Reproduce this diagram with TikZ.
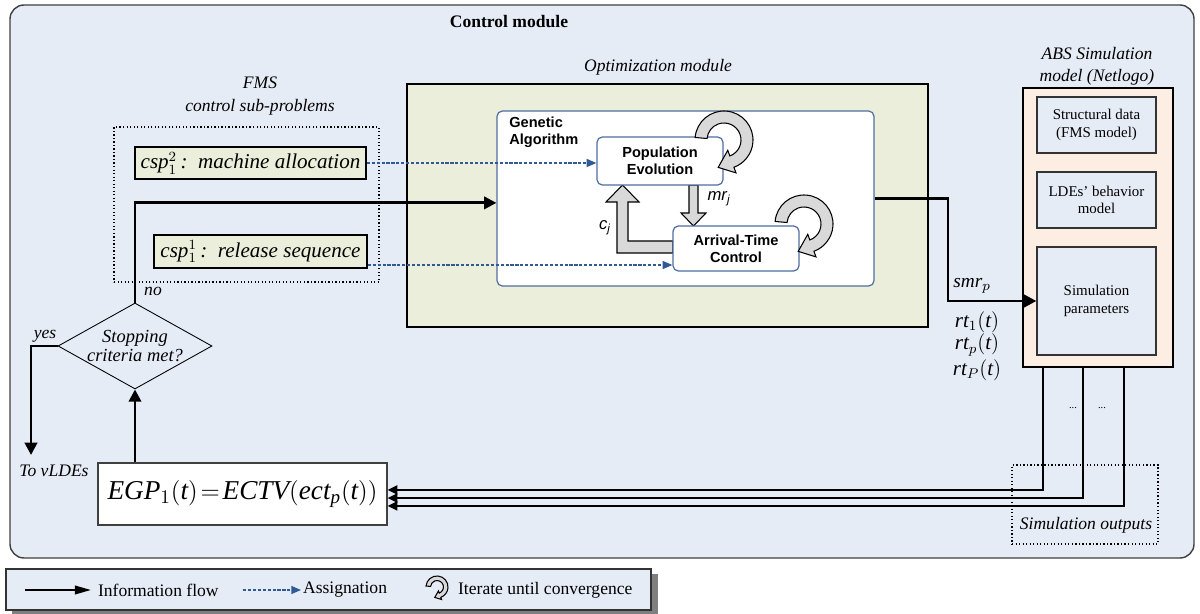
\documentclass[tikz,border=0pt]{standalone}
\usepackage{fontspec}
\setmainfont{Liberation Serif}
\newfontfamily\arialfont{Liberation Sans}
\usetikzlibrary{arrows.meta,shapes.geometric,calc}

\definecolor{ctrlblue}{HTML}{E6ECF6}
\definecolor{ctrledge}{HTML}{404040}
\definecolor{optolive}{HTML}{EBEEDB}
\definecolor{abspeach}{HTML}{FDEEE4}
\definecolor{gablue}{HTML}{4F6FA0}
\definecolor{assignblue}{HTML}{2F5A94}
\definecolor{loopgray}{HTML}{D9D9D9}
\definecolor{shadowgray}{HTML}{7F7F7F}

\tikzset{
  flow/.style={line width=1.6pt, -{Triangle[length=7pt,width=7pt]}},
  outflow/.style={line width=1.3pt, -{Triangle[length=5.5pt,width=5pt]}},
  assign/.style={draw=assignblue, line width=0.8pt, dash pattern=on 1.8pt off 1pt,
    -{Triangle[length=5.5pt,width=4.5pt,fill=assignblue]}},
  dotbox/.style={draw=black, line width=0.7pt, dash pattern=on 0.7pt off 1.3pt},
  cspbox/.style={draw=black, fill=optolive, line width=0.9pt, inner sep=0pt,
    font=\fontsize{12}{14}\selectfont\itshape},
  gafont/.style={font=\arialfont\bfseries\fontsize{8.3}{9.7}\selectfont},
  gabox/.style={gafont, draw=gablue, fill=white, rounded corners=3pt, line width=0.7pt, align=center},
  absbox/.style={draw=black!80, fill=ctrlblue, line width=0.7pt, minimum width=2.38cm,
    align=center, font=\fontsize{8.5}{10}\selectfont},
  lbl/.style={font=\fontsize{10}{12.5}\selectfont\itshape, align=center},
  mathlbl/.style={font=\fontsize{12}{14}\selectfont},
  legtext/.style={font=\fontsize{10}{12}\selectfont, anchor=west, inner sep=1pt},
  blockarrow/.style={fill=loopgray, draw=black, line width=0.6pt},
}

% circular "iterate" arrow: #1 centre, #2 scale
\newcommand{\convloop}[2]{%
  \begin{scope}[shift={#1}, x=0.02cm, y=0.02cm, scale=#2]
    \filldraw[blockarrow] (175:29) arc[start angle=175, end angle=-70, radius=29]
      -- (-70:35) -- (-102:28) -- (-70:11) -- (-70:17)
      arc[start angle=-70, end angle=175, radius=17] -- cycle;
  \end{scope}}

\begin{document}
\begin{tikzpicture}[x=0.02cm, y=-0.02cm]

\useasboundingbox (0,0) rectangle (1200,614);

% Control module (background)
\filldraw[fill=ctrlblue, draw=ctrledge, line width=0.8pt, rounded corners=8pt] (10,5) rectangle (1194,558);
\node[font=\bfseries\fontsize{10}{12}\selectfont] (ctrltitle) at (509,22) {Control module};

% FMS control sub-problems
\node[lbl, font=\fontsize{10}{13}\selectfont\itshape] (fmslabel) at (260,96) {FMS\\control sub-problems};
\node[dotbox, minimum width=5.3cm, minimum height=3.1cm] (fmsbox) at (246.5,204.5) {};
\node[cspbox, minimum width=4.62cm, minimum height=0.64cm] (csp2) at (250.5,163)
  {$\mathit{csp}_1^2$\,:\, machine allocation};
\node[cspbox, minimum width=4.26cm, minimum height=0.66cm] (csp1) at (260.5,251.5)
  {$\mathit{csp}_1^1$\,:\, release sequence};

% Optimization module
\node[lbl] (optlabel) at (658,67) {Optimization module};
\node[draw=black, fill=optolive, line width=1.1pt, minimum width=10.42cm, minimum height=4.86cm] (optbox) at (667.5,205.5) {};
\node[gabox, minimum width=7.54cm, minimum height=3.5cm] (ga) at (685.5,198.5) {};
\node[gafont, anchor=north west, align=left, inner sep=2pt] (galabel) at (505.5,113) {Genetic\\Algorithm};

% Block arrows between GA steps
\filldraw[blockarrow] (689,185) -- (689,213) -- (681,213) -- (693.5,226) -- (706,213) -- (698,213) -- (698,185) -- cycle;
\filldraw[blockarrow] (673,241) -- (628,241) -- (628,202) -- (639,202) -- (622.5,185) -- (606,202) -- (617,202) -- (617,253) -- (673,253) -- cycle;

% GA steps
\node[gabox, minimum width=2.52cm, minimum height=0.96cm] (popevo) at (660,161) {Population\\Evolution};
\node[gabox, minimum width=2.52cm, minimum height=0.9cm] (arrival) at (736,248.5) {Arrival-Time\\Control};
\convloop{(724,140)}{1}
\convloop{(804,224)}{1}
\node[font=\arialfont\itshape\fontsize{9.5}{11}\selectfont] (mrlabel) at (719,199) {mr\textsubscript{j}};
\node[font=\arialfont\itshape\fontsize{9.5}{11}\selectfont] (clabel) at (605,228) {c\textsubscript{j}};

% ABS simulation model
\node[lbl] (abslabel) at (1097,66) {ABS Simulation\\model (Netlogo)};
\node[draw=black, fill=abspeach, line width=1.1pt, minimum width=3cm, minimum height=5.58cm] (abs) at (1098,227.5) {};
\node[absbox, minimum height=1.12cm] (struct) at (1096.5,125) {Structural data\\(FMS model)};
\node[absbox, minimum height=1.12cm] (ldes) at (1096.5,200) {LDEs’ behavior\\model};
\node[absbox, minimum height=2.16cm] (simpar) at (1096.5,301) {Simulation\\parameters};

% Parameters sent to the simulation
\node[mathlbl, font=\fontsize{11}{13}\selectfont] (smr) at (972,286) {$\mathit{smr}_p$};
\node[mathlbl] (rt1) at (977,322) {$\mathit{rt}_1(\mathit{t})$};
\node[mathlbl] (rtp) at (977,345) {$\mathit{rt}_p(\mathit{t})$};
\node[mathlbl] (rtP) at (977,370) {$\mathit{rt}_P(\mathit{t})$};

% Simulation outputs
\node[dotbox, minimum width=2.92cm, minimum height=1.58cm] (simout) at (1085,504.5) {};
\node[lbl] (simoutlabel) at (1086,525) {Simulation outputs};
\node[font=\fontsize{6}{7}\selectfont] (dots1) at (1073,408) {...};
\node[font=\fontsize{6}{7}\selectfont] (dots2) at (1102,408) {...};

% Evaluation and stopping test
\node[draw=ctrledge, fill=white, line width=0.7pt, minimum width=5.78cm, minimum height=1.24cm,
  inner sep=1pt, font=\fontsize{15.5}{18}\selectfont] (egp) at (242.5,494)
  {$\mathit{EGP}_1(\mathit{t})\!=\!\mathit{ECTV}(\mathit{ect}_\mathit{p}(\mathit{t}))$};
\node[diamond, draw=black, fill=ctrlblue, line width=0.5pt, minimum width=3.08cm, minimum height=1.72cm,
  inner sep=0pt] (decision) at (135,346) {};
\node[lbl, font=\fontsize{10.5}{11}\selectfont\itshape] (decisiontext) at (decision) {Stopping\\criteria met?};
\node[lbl] (yes) at (45,336) {yes};
\node[lbl] (no) at (153,291) {no};
\node[lbl] (tovldes) at (54,471) {To vLDEs};
\coordinate (tovlde) at (31,455);

% Information flow
\draw[flow] (decision.north) |- ([yshift=-2.5pt]ga.west);
\draw[flow] (decision.south |- egp.north) -- (decision.south);
\draw[flow] (decision.west) -| (tovlde);
\coordinate (turn) at (948,301);
\draw[flow] (ga.east) -| (turn) -- (simpar.west);
\coordinate (o1) at (1043,367);
\coordinate (o2) at (1083,367);
\coordinate (o3) at (1124,367);
\draw[outflow] (o1) |- ([yshift=2.3pt]egp.east);
\draw[outflow] (o2) |- ([yshift=-2.3pt]egp.east);
\draw[outflow] (o3) |- ([yshift=-6.8pt]egp.east);

% Assignation
\coordinate (a1) at ([yshift=-7.7pt]csp1.east);
\draw[assign] (csp2.east) -- (csp2.east -| popevo.west);
\draw[assign] (a1) -- (a1 -| arrival.west);

% Legend
\fill[shadowgray] (12,574) rectangle (658,616);
\filldraw[fill=ctrlblue, draw=black!80, line width=0.7pt] (6,569) rectangle (651,610);
\node[legtext] (leginfo) at (96,590) {Information flow};
\node[legtext] (legassign) at (301,590) {Assignation};
\node[legtext] (legiter) at (456,590) {Iterate until convergence};
\coordinate (legA) at (25,590);
\coordinate (legB) at (243,590);
\draw[line width=0.7pt, -{Triangle[length=9pt,width=5pt]}] (legA) -- ([xshift=-3pt]leginfo.west);
\draw[assign] (legB) -- (legassign.west);
\convloop{(437,587)}{0.38}

\end{tikzpicture}
\end{document}
